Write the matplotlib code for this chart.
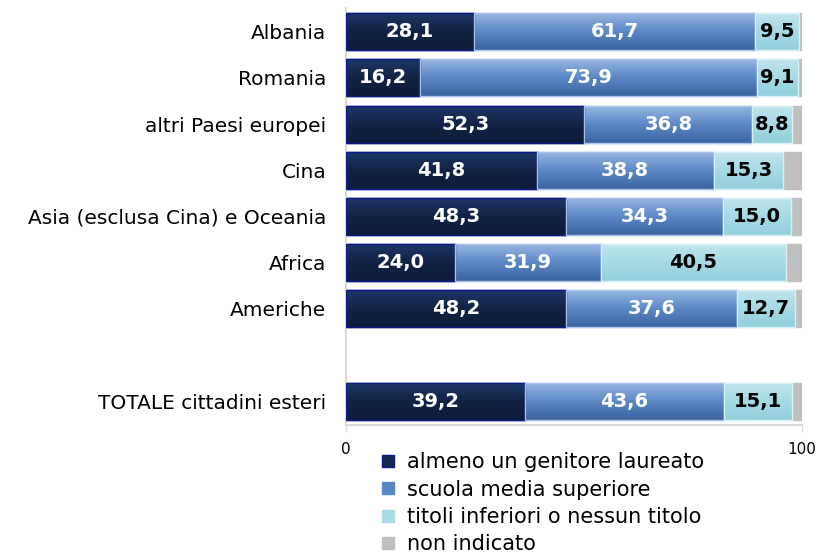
import numpy as np
import matplotlib
matplotlib.use('Agg')
import matplotlib.pyplot as plt
from matplotlib.colors import LinearSegmentedColormap
from matplotlib.lines import Line2D

# dati
paesi = ['Albania', 'Romania', 'altri Paesi europei', 'Cina',
         'Asia (esclusa Cina) e Oceania', 'Africa', 'Americhe',
         'TOTALE cittadini esteri']
laureato = [28.1, 16.2, 52.3, 41.8, 48.3, 24.0, 48.2, 39.2]
superiore = [61.7, 73.9, 36.8, 38.8, 34.3, 31.9, 37.6, 43.6]
inferiori = [9.5, 9.1, 8.8, 15.3, 15.0, 40.5, 12.7, 15.1]
non_indicato = [0.7, 0.8, 2.1, 4.1, 2.4, 3.6, 1.5, 2.1]
legenda = ['almeno un genitore laureato', 'scuola media superiore',
           'titoli inferiori o nessun titolo', 'non indicato']

pos = [0, 1, 2, 3, 4, 5, 6, 8]

plt.rcParams['font.family'] = ['DejaVu Sans']

fig = plt.figure(figsize=(8.18, 5.54), dpi=100)
ax = fig.add_axes([346 / 818, 1 - 425 / 554, (802 - 346) / 818, (425 - 8) / 554])

serie = [laureato, superiore, inferiori, non_indicato]
colori = ['#142849', '#5b87c4', '#a9dbe6', '#bfbfbf']
bordi = ['#0a1a8a', '#a9c3ea', '#d8f0f6', '#bfbfbf']
gradienti = [
    ['#1d3766', '#112244', '#0e1c38'],
    ['#95b5e0', '#5b88c6', '#3b64a0'],
    ['#bfe5ee', '#a6d9e5', '#93cfdc'],
    None,
]

sinistra = np.zeros(len(pos))
for vals, col, bc, grad in zip(serie, colori, bordi, gradienti):
    bars = ax.barh(pos, vals, left=sinistra, height=0.8, color=col,
                   edgecolor=bc, linewidth=1.0, zorder=2)
    if grad is not None:
        cmap = LinearSegmentedColormap.from_list('g', grad)
        img = np.linspace(0, 1, 64).reshape(-1, 1)
        for b in bars:
            x0, y0 = b.get_x(), b.get_y()
            w, h = b.get_width(), b.get_height()
            im = ax.imshow(img, cmap=cmap, aspect='auto', zorder=2.5,
                           extent=(x0, x0 + w, y0 + h, y0),
                           interpolation='bilinear')
            im.set_clip_path(b)
            # bordo sopra il gradiente
            ax.add_patch(plt.Rectangle((x0, y0), w, h, fill=False,
                                       edgecolor=bc, linewidth=1.0, zorder=3))
    sinistra += np.array(vals)

# etichette dei valori
sinistra = np.zeros(len(pos))
for k, (vals, tc) in enumerate(zip(serie[:3], ['white', 'white', 'black'])):
    for p, v, l in zip(pos, vals, sinistra):
        ax.text(l + v / 2, p, f'{v:.1f}'.replace('.', ','), ha='center',
                va='center', color=tc, fontsize=14, fontweight='bold', zorder=4)
    sinistra += np.array(vals)

ax.set_xlim(0, 100)
ax.set_ylim(8.51, -0.51)
ax.set_yticks(pos)
ax.set_yticklabels(paesi, fontsize=14.5)
ax.tick_params(axis='y', length=0, pad=14)
ax.set_xticks([0, 100])
ax.set_xticklabels(['0', '100'], fontsize=11)
ax.tick_params(axis='x', length=5, color='#d9d9d9', pad=7)
for s in ['top', 'right']:
    ax.spines[s].set_visible(False)
ax.spines['left'].set_color('#d9d9d9')
ax.spines['bottom'].set_color('#d9d9d9')
ax.spines['left'].set_linewidth(1.5)
ax.spines['bottom'].set_linewidth(1.5)

handles = [Line2D([], [], marker='s', linestyle='none', markersize=9,
                  markerfacecolor=c, markeredgecolor=e) for c, e in
           zip(['#142849', '#5b87c4', '#a9dbe6', '#bfbfbf'],
               ['#0a1a8a', '#5b87c4', '#a9dbe6', '#bfbfbf'])]
fig.legend(handles, legenda, loc='upper left',
           bbox_to_anchor=(380 / 818, 1 - 452 / 554), frameon=False,
           fontsize=15, handlelength=0.8, handletextpad=0.5,
           labelspacing=0.36, borderaxespad=0, borderpad=0)

fig.savefig('out.png', dpi=100)
